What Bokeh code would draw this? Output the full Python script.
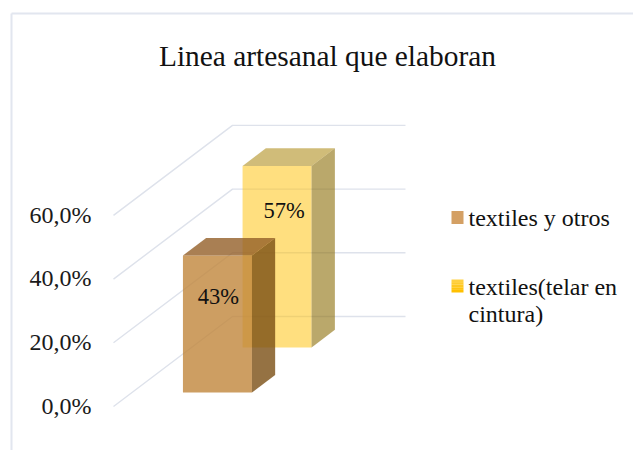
from bokeh.plotting import figure
from bokeh.models import Range1d
from bokeh.core.properties import value
from bokeh.embed import file_html
from bokeh.resources import INLINE

# Data
title = "Linea artesanal que elaboran"
series = ["textiles y otros", "textiles(telar en\ncintura)"]
values = [43, 57]
labels = ["43%", "57%"]
ticks = [0, 20, 40, 60]
tick_labels = ["0,0%", "20,0%", "40,0%", "60,0%"]

# Geometry: value scale and oblique depth projection (page pixels)
W, H = 633, 450
PAD = 0
Y0 = 406.0          # pixel row of value 0, front
PX_PER_UNIT = 63.7 / 20
FLOOR_X0, FLOOR_X1 = 113.0, 232.0
DEPTH_DX = FLOOR_X1 - FLOOR_X0
DEPTH_DV = (Y0 - 316.0) / PX_PER_UNIT
WALL_X = 405.0
CAT_X0, CAT_X1 = 164.0, 233.0
DEPTHS = [(0.155, 0.35), (0.656, 0.852)]
LABEL_DROP = [12.8, 14.0]
LABEL_DX = [1.0, 7.0]
FRONT = ["#C0863B", "#FFC000"]
FRONT_A = [0.8, 0.5]
SIDE = ["#7A4F14", "#8C6E08"]
SIDE_A = [0.8, 0.6]
TOP = ["#935F28", "#B09020"]
TOP_A = [0.8, 0.6]
LEG = ["#D4A064", ["#FFD040", "#FFCC30", "#FFC820", "#FFC410", "#FFC000"]]
GRID = "#DEE2EB"
FONT = "Liberation Serif"


def v_of_row(row):
    return (Y0 - row) / PX_PER_UNIT


def proj(x, v, d):
    return x + d * DEPTH_DX, v + d * DEPTH_DV


p = figure(width=W, height=H, output_backend="svg", toolbar_location=None,
           x_range=Range1d(PAD, PAD + W), y_range=Range1d(v_of_row(PAD + H), v_of_row(PAD)),
           min_border=0, outline_line_color=None, background_fill_color="white")
p.xaxis.visible = False
p.yaxis.visible = False
p.xgrid.visible = False
p.ygrid.visible = False

# chart frame
p.line([11, 11], [v_of_row(450), v_of_row(13)], line_color="#E2E6EF", line_width=2)
p.line([11, 633], [v_of_row(13), v_of_row(13)], line_color="#E2E6EF", line_width=2)

# gridlines
for t in ticks:
    a = proj(FLOOR_X0, t, 0)
    b = proj(FLOOR_X0, t, 1)
    p.line([a[0], b[0], WALL_X], [a[1], b[1], b[1]], line_color=GRID, line_width=1.4)

# bars, back to front
for i in [1, 0]:
    d0, d1 = DEPTHS[i]
    v = values[i]
    fx0, fv0 = proj(CAT_X0, 0, d0)
    fx1, _ = proj(CAT_X1, 0, d0)
    ftop = fv0 + v
    bx1, bv0 = proj(CAT_X1, 0, d1)
    bx0, _ = proj(CAT_X0, 0, d1)
    btop = bv0 + v
    p.patch([fx0, fx1, fx1, fx0], [fv0, fv0, ftop, ftop], fill_color=FRONT[i], fill_alpha=FRONT_A[i], line_color=None)
    p.patch([fx1, bx1, bx1, fx1], [fv0, bv0, btop, ftop], fill_color=SIDE[i], fill_alpha=SIDE_A[i], line_color=None)
    p.patch([fx0, fx1, bx1, bx0], [ftop, ftop, btop, btop], fill_color=TOP[i], fill_alpha=TOP_A[i], line_color=None)
    p.text([(fx0 + fx1) / 2 + LABEL_DX[i]], [ftop - LABEL_DROP[i]], text=[labels[i]], text_font=value(FONT),
           text_font_size="22.5px", text_color="#111111", text_align="center", text_baseline="middle")

# value labels
for t, s in zip(ticks, tick_labels):
    p.text([91], [t + 0.2], text=[s], text_font=value(FONT), text_font_size="24px",
           text_color="#1a1a1a", text_align="right", text_baseline="middle")

# title
p.text([327], [v_of_row(55)], text=[title], text_font=value(FONT), text_font_size="29.4px",
       text_color="#111111", text_align="center", text_baseline="middle")

# legend
leg_rows = [217, 285.5]
for i, row in enumerate(leg_rows):
    cols = LEG[i] if isinstance(LEG[i], list) else [LEG[i]]
    step = 13.0 / len(cols)
    for k, c in enumerate(cols):
        p.quad(left=[451], right=[463], top=[v_of_row(row - 6.5 + k * step)],
               bottom=[v_of_row(row - 6.5 + (k + 1) * step)], fill_color=c, line_color=None)
    for j, part in enumerate(series[i].split("\n")):
        p.text([468], [v_of_row(row + 0.7 + j * 27)], text=[part], text_font=value(FONT),
               text_font_size="24px", text_color="#111111", text_align="left", text_baseline="middle")

open("out.html", "w").write(file_html(p, INLINE))
